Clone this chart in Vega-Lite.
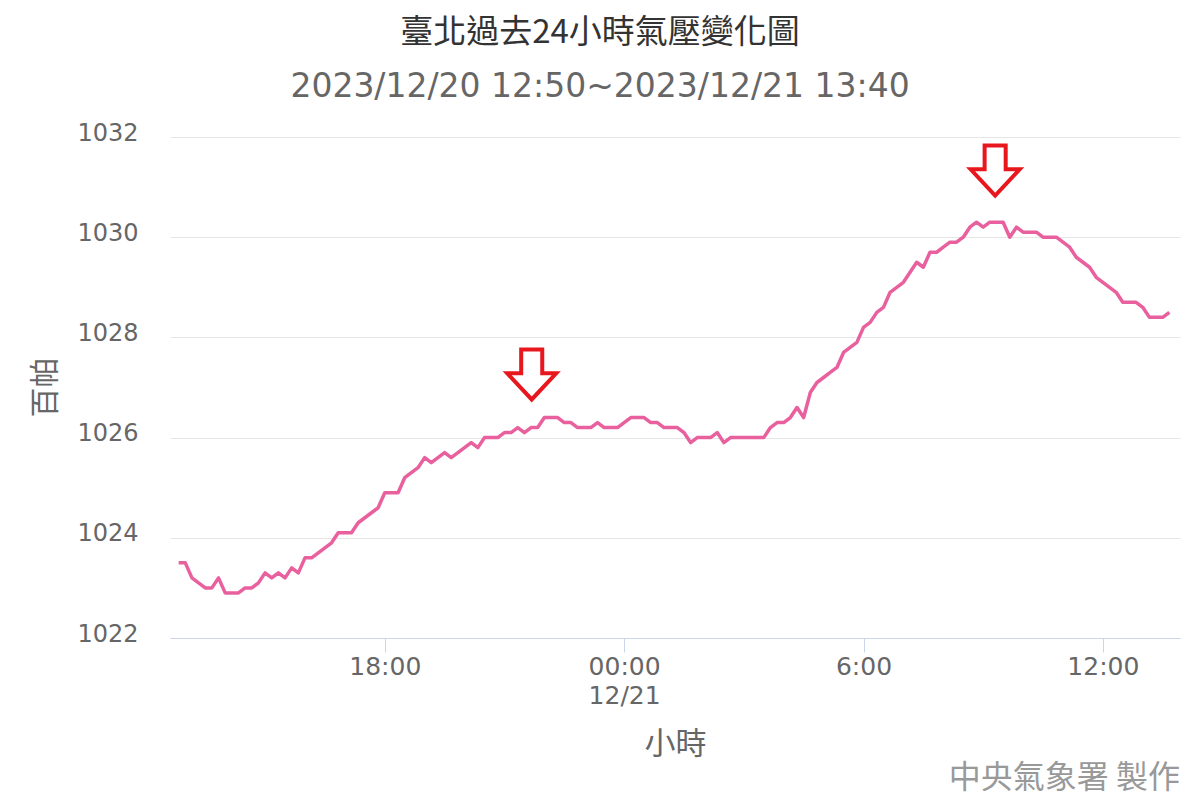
{
  "$schema": "https://vega.github.io/schema/vega-lite/v6.json",
  "width": 1010,
  "height": 501,
  "autosize": "none",
  "padding": {"left": 170, "top": 137, "right": 20, "bottom": 162},
  "background": "#ffffff",
  "config": {"view": {"stroke": null}},
  "title": {
    "text": "臺北過去24小時氣壓變化圖",
    "subtitle": "2023/12/20 12:50~2023/12/21 13:40",
    "font": "Noto Sans CJK TC",
    "fontSize": 33,
    "fontWeight": "normal",
    "color": "#333333",
    "subtitleFont": "DejaVu Sans",
    "subtitleFontSize": 33,
    "subtitleColor": "#666666",
    "subtitlePadding": 21,
    "anchor": "middle",
    "frame": "group",
    "dx": -75,
    "offset": 17
  },
  "layer": [
    {
      "data": {
        "values": [
          {"t": "2023-12-20T12:50:00Z", "p": 1023.5},
          {"t": "2023-12-20T13:00:00Z", "p": 1023.5},
          {"t": "2023-12-20T13:10:00Z", "p": 1023.2},
          {"t": "2023-12-20T13:20:00Z", "p": 1023.1},
          {"t": "2023-12-20T13:30:00Z", "p": 1023.0},
          {"t": "2023-12-20T13:40:00Z", "p": 1023.0},
          {"t": "2023-12-20T13:50:00Z", "p": 1023.2},
          {"t": "2023-12-20T14:00:00Z", "p": 1022.9},
          {"t": "2023-12-20T14:10:00Z", "p": 1022.9},
          {"t": "2023-12-20T14:20:00Z", "p": 1022.9},
          {"t": "2023-12-20T14:30:00Z", "p": 1023.0},
          {"t": "2023-12-20T14:40:00Z", "p": 1023.0},
          {"t": "2023-12-20T14:50:00Z", "p": 1023.1},
          {"t": "2023-12-20T15:00:00Z", "p": 1023.3},
          {"t": "2023-12-20T15:10:00Z", "p": 1023.2},
          {"t": "2023-12-20T15:20:00Z", "p": 1023.3},
          {"t": "2023-12-20T15:30:00Z", "p": 1023.2},
          {"t": "2023-12-20T15:40:00Z", "p": 1023.4},
          {"t": "2023-12-20T15:50:00Z", "p": 1023.3},
          {"t": "2023-12-20T16:00:00Z", "p": 1023.6},
          {"t": "2023-12-20T16:10:00Z", "p": 1023.6},
          {"t": "2023-12-20T16:20:00Z", "p": 1023.7},
          {"t": "2023-12-20T16:30:00Z", "p": 1023.8},
          {"t": "2023-12-20T16:40:00Z", "p": 1023.9},
          {"t": "2023-12-20T16:50:00Z", "p": 1024.1},
          {"t": "2023-12-20T17:00:00Z", "p": 1024.1},
          {"t": "2023-12-20T17:10:00Z", "p": 1024.1},
          {"t": "2023-12-20T17:20:00Z", "p": 1024.3},
          {"t": "2023-12-20T17:30:00Z", "p": 1024.4},
          {"t": "2023-12-20T17:40:00Z", "p": 1024.5},
          {"t": "2023-12-20T17:50:00Z", "p": 1024.6},
          {"t": "2023-12-20T18:00:00Z", "p": 1024.9},
          {"t": "2023-12-20T18:10:00Z", "p": 1024.9},
          {"t": "2023-12-20T18:20:00Z", "p": 1024.9},
          {"t": "2023-12-20T18:30:00Z", "p": 1025.2},
          {"t": "2023-12-20T18:40:00Z", "p": 1025.3},
          {"t": "2023-12-20T18:50:00Z", "p": 1025.4},
          {"t": "2023-12-20T19:00:00Z", "p": 1025.6},
          {"t": "2023-12-20T19:10:00Z", "p": 1025.5},
          {"t": "2023-12-20T19:20:00Z", "p": 1025.6},
          {"t": "2023-12-20T19:30:00Z", "p": 1025.7},
          {"t": "2023-12-20T19:40:00Z", "p": 1025.6},
          {"t": "2023-12-20T19:50:00Z", "p": 1025.7},
          {"t": "2023-12-20T20:00:00Z", "p": 1025.8},
          {"t": "2023-12-20T20:10:00Z", "p": 1025.9},
          {"t": "2023-12-20T20:20:00Z", "p": 1025.8},
          {"t": "2023-12-20T20:30:00Z", "p": 1026.0},
          {"t": "2023-12-20T20:40:00Z", "p": 1026.0},
          {"t": "2023-12-20T20:50:00Z", "p": 1026.0},
          {"t": "2023-12-20T21:00:00Z", "p": 1026.1},
          {"t": "2023-12-20T21:10:00Z", "p": 1026.1},
          {"t": "2023-12-20T21:20:00Z", "p": 1026.2},
          {"t": "2023-12-20T21:30:00Z", "p": 1026.1},
          {"t": "2023-12-20T21:40:00Z", "p": 1026.2},
          {"t": "2023-12-20T21:50:00Z", "p": 1026.2},
          {"t": "2023-12-20T22:00:00Z", "p": 1026.4},
          {"t": "2023-12-20T22:10:00Z", "p": 1026.4},
          {"t": "2023-12-20T22:20:00Z", "p": 1026.4},
          {"t": "2023-12-20T22:30:00Z", "p": 1026.3},
          {"t": "2023-12-20T22:40:00Z", "p": 1026.3},
          {"t": "2023-12-20T22:50:00Z", "p": 1026.2},
          {"t": "2023-12-20T23:00:00Z", "p": 1026.2},
          {"t": "2023-12-20T23:10:00Z", "p": 1026.2},
          {"t": "2023-12-20T23:20:00Z", "p": 1026.3},
          {"t": "2023-12-20T23:30:00Z", "p": 1026.2},
          {"t": "2023-12-20T23:40:00Z", "p": 1026.2},
          {"t": "2023-12-20T23:50:00Z", "p": 1026.2},
          {"t": "2023-12-21T00:00:00Z", "p": 1026.3},
          {"t": "2023-12-21T00:10:00Z", "p": 1026.4},
          {"t": "2023-12-21T00:20:00Z", "p": 1026.4},
          {"t": "2023-12-21T00:30:00Z", "p": 1026.4},
          {"t": "2023-12-21T00:40:00Z", "p": 1026.3},
          {"t": "2023-12-21T00:50:00Z", "p": 1026.3},
          {"t": "2023-12-21T01:00:00Z", "p": 1026.2},
          {"t": "2023-12-21T01:10:00Z", "p": 1026.2},
          {"t": "2023-12-21T01:20:00Z", "p": 1026.2},
          {"t": "2023-12-21T01:30:00Z", "p": 1026.1},
          {"t": "2023-12-21T01:40:00Z", "p": 1025.9},
          {"t": "2023-12-21T01:50:00Z", "p": 1026.0},
          {"t": "2023-12-21T02:00:00Z", "p": 1026.0},
          {"t": "2023-12-21T02:10:00Z", "p": 1026.0},
          {"t": "2023-12-21T02:20:00Z", "p": 1026.1},
          {"t": "2023-12-21T02:30:00Z", "p": 1025.9},
          {"t": "2023-12-21T02:40:00Z", "p": 1026.0},
          {"t": "2023-12-21T02:50:00Z", "p": 1026.0},
          {"t": "2023-12-21T03:00:00Z", "p": 1026.0},
          {"t": "2023-12-21T03:10:00Z", "p": 1026.0},
          {"t": "2023-12-21T03:20:00Z", "p": 1026.0},
          {"t": "2023-12-21T03:30:00Z", "p": 1026.0},
          {"t": "2023-12-21T03:40:00Z", "p": 1026.2},
          {"t": "2023-12-21T03:50:00Z", "p": 1026.3},
          {"t": "2023-12-21T04:00:00Z", "p": 1026.3},
          {"t": "2023-12-21T04:10:00Z", "p": 1026.4},
          {"t": "2023-12-21T04:20:00Z", "p": 1026.6},
          {"t": "2023-12-21T04:30:00Z", "p": 1026.4},
          {"t": "2023-12-21T04:40:00Z", "p": 1026.9},
          {"t": "2023-12-21T04:50:00Z", "p": 1027.1},
          {"t": "2023-12-21T05:00:00Z", "p": 1027.2},
          {"t": "2023-12-21T05:10:00Z", "p": 1027.3},
          {"t": "2023-12-21T05:20:00Z", "p": 1027.4},
          {"t": "2023-12-21T05:30:00Z", "p": 1027.7},
          {"t": "2023-12-21T05:40:00Z", "p": 1027.8},
          {"t": "2023-12-21T05:50:00Z", "p": 1027.9},
          {"t": "2023-12-21T06:00:00Z", "p": 1028.2},
          {"t": "2023-12-21T06:10:00Z", "p": 1028.3},
          {"t": "2023-12-21T06:20:00Z", "p": 1028.5},
          {"t": "2023-12-21T06:30:00Z", "p": 1028.6},
          {"t": "2023-12-21T06:40:00Z", "p": 1028.9},
          {"t": "2023-12-21T06:50:00Z", "p": 1029.0},
          {"t": "2023-12-21T07:00:00Z", "p": 1029.1},
          {"t": "2023-12-21T07:10:00Z", "p": 1029.3},
          {"t": "2023-12-21T07:20:00Z", "p": 1029.5},
          {"t": "2023-12-21T07:30:00Z", "p": 1029.4},
          {"t": "2023-12-21T07:40:00Z", "p": 1029.7},
          {"t": "2023-12-21T07:50:00Z", "p": 1029.7},
          {"t": "2023-12-21T08:00:00Z", "p": 1029.8},
          {"t": "2023-12-21T08:10:00Z", "p": 1029.9},
          {"t": "2023-12-21T08:20:00Z", "p": 1029.9},
          {"t": "2023-12-21T08:30:00Z", "p": 1030.0},
          {"t": "2023-12-21T08:40:00Z", "p": 1030.2},
          {"t": "2023-12-21T08:50:00Z", "p": 1030.3},
          {"t": "2023-12-21T09:00:00Z", "p": 1030.2},
          {"t": "2023-12-21T09:10:00Z", "p": 1030.3},
          {"t": "2023-12-21T09:20:00Z", "p": 1030.3},
          {"t": "2023-12-21T09:30:00Z", "p": 1030.3},
          {"t": "2023-12-21T09:40:00Z", "p": 1030.0},
          {"t": "2023-12-21T09:50:00Z", "p": 1030.2},
          {"t": "2023-12-21T10:00:00Z", "p": 1030.1},
          {"t": "2023-12-21T10:10:00Z", "p": 1030.1},
          {"t": "2023-12-21T10:20:00Z", "p": 1030.1},
          {"t": "2023-12-21T10:30:00Z", "p": 1030.0},
          {"t": "2023-12-21T10:40:00Z", "p": 1030.0},
          {"t": "2023-12-21T10:50:00Z", "p": 1030.0},
          {"t": "2023-12-21T11:00:00Z", "p": 1029.9},
          {"t": "2023-12-21T11:10:00Z", "p": 1029.8},
          {"t": "2023-12-21T11:20:00Z", "p": 1029.6},
          {"t": "2023-12-21T11:30:00Z", "p": 1029.5},
          {"t": "2023-12-21T11:40:00Z", "p": 1029.4},
          {"t": "2023-12-21T11:50:00Z", "p": 1029.2},
          {"t": "2023-12-21T12:00:00Z", "p": 1029.1},
          {"t": "2023-12-21T12:10:00Z", "p": 1029.0},
          {"t": "2023-12-21T12:20:00Z", "p": 1028.9},
          {"t": "2023-12-21T12:30:00Z", "p": 1028.7},
          {"t": "2023-12-21T12:40:00Z", "p": 1028.7},
          {"t": "2023-12-21T12:50:00Z", "p": 1028.7},
          {"t": "2023-12-21T13:00:00Z", "p": 1028.6},
          {"t": "2023-12-21T13:10:00Z", "p": 1028.4},
          {"t": "2023-12-21T13:20:00Z", "p": 1028.4},
          {"t": "2023-12-21T13:30:00Z", "p": 1028.4},
          {"t": "2023-12-21T13:40:00Z", "p": 1028.5}
        ]
      },
      "mark": {"type": "line", "color": "#e8609d", "strokeWidth": 3.5, "strokeJoin": "round"},
      "encoding": {
        "x": {
          "field": "t",
          "type": "temporal",
          "title": "小時",
          "scale": {
            "type": "utc",
            "domain": [
              {"year": 2023, "month": 12, "date": 20, "hours": 12, "minutes": 37, "utc": true},
              {"year": 2023, "month": 12, "date": 21, "hours": 13, "minutes": 56, "utc": true}
            ]
          },
          "axis": {
            "values": [
              {"year": 2023, "month": 12, "date": 20, "hours": 18, "utc": true},
              {"year": 2023, "month": 12, "date": 21, "hours": 0, "utc": true},
              {"year": 2023, "month": 12, "date": 21, "hours": 6, "utc": true},
              {"year": 2023, "month": 12, "date": 21, "hours": 12, "utc": true}
            ],
            "labelExpr": "utcFormat(datum.value, '%H:%M') == '00:00' ? ['00:00', '12/21'] : utcFormat(datum.value, '%-H:%M')",
            "grid": false,
            "domainColor": "#ccd6eb",
            "tickColor": "#ccd6eb",
            "tickSize": 14,
            "labelFont": "DejaVu Sans",
            "labelFontSize": 25,
            "labelColor": "#666666",
            "labelPadding": 2,
            "labelLineHeight": 29,
            "labelFlush": false,
            "labelOverlap": false,
            "titleFont": "Noto Sans CJK TC",
            "titleFontSize": 31,
            "titleFontWeight": "normal",
            "titleColor": "#666666",
            "titleY": 106,
            "titleBaseline": "middle"
          }
        },
        "y": {
          "field": "p",
          "type": "quantitative",
          "title": "百帕",
          "scale": {"domain": [1022, 1032], "nice": false, "zero": false},
          "axis": {
            "values": [1022, 1024, 1026, 1028, 1030, 1032],
            "format": "d",
            "domain": false,
            "ticks": false,
            "gridColor": "#e6e6e6",
            "gridWidth": 1,
            "labelFont": "DejaVu Sans",
            "labelFontSize": 24,
            "labelColor": "#666666",
            "labelPadding": 32,
            "labelOffset": -4,
            "titleFont": "Noto Sans CJK TC",
            "titleFontSize": 30,
            "titleFontWeight": "normal",
            "titleColor": "#666666",
            "titleX": -125,
            "titleY": 250,
            "titleAlign": "center",
            "titleBaseline": "middle"
          }
        }
      }
    },
    {
      "data": {
        "values": [
          {"t": "2023-12-20T21:41:00Z", "p": 1027.26},
          {"t": "2023-12-21T09:18:00Z", "p": 1031.33}
        ]
      },
      "mark": {
        "type": "point",
        "shape": "M-0.43,-1.02L0.43,-1.02L0.43,-0.05L1,-0.05L0,1.02L-1,-0.05L-0.43,-0.05Z",
        "size": 2401,
        "fill": "#ffffff",
        "stroke": "#e8161d",
        "strokeWidth": 4,
        "strokeJoin": "miter",
        "opacity": 1,
        "fillOpacity": 1,
        "strokeOpacity": 1
      },
      "encoding": {
        "x": {"field": "t", "type": "temporal", "scale": {"type": "utc"}},
        "y": {"field": "p", "type": "quantitative"}
      }
    },
    {
      "data": {"values": [{"credit": "中央氣象署 製作"}]},
      "mark": {
        "type": "text",
        "font": "Noto Sans CJK TC",
        "fontSize": 32,
        "color": "#999999",
        "align": "right",
        "baseline": "alphabetic",
        "x": {"expr": "width"},
        "y": {"expr": "height + 150"}
      },
      "encoding": {"text": {"field": "credit"}}
    }
  ]
}
